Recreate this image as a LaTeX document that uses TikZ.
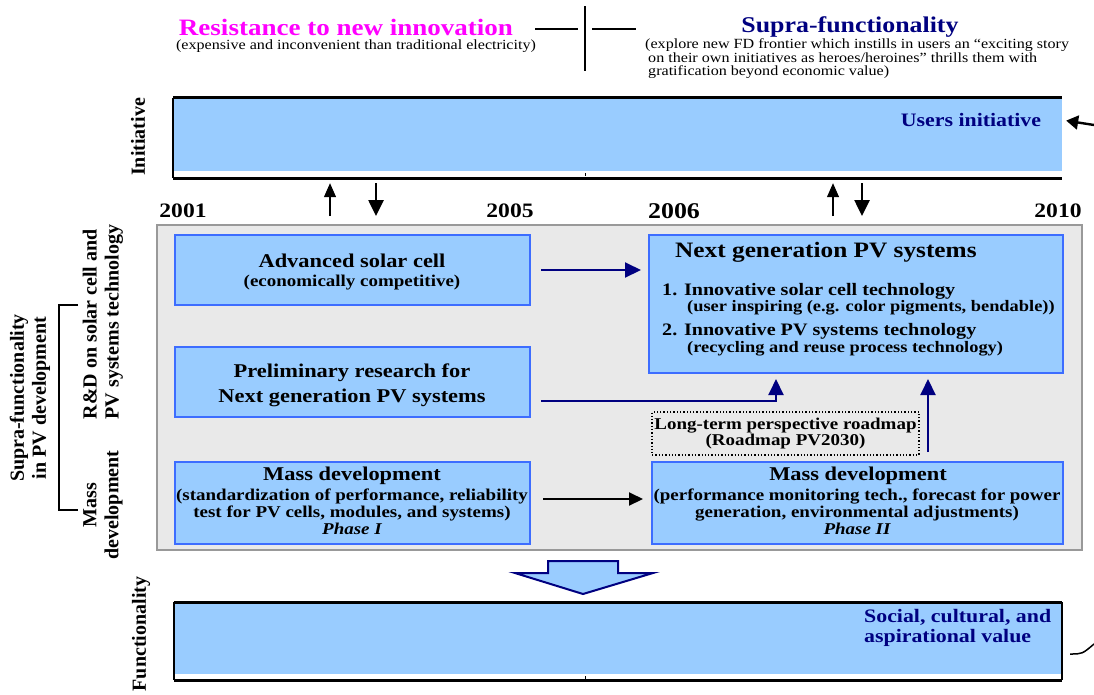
\documentclass[tikz,border=0pt]{standalone}
\usepackage{fontspec}
\setmainfont{Liberation Serif}[FakeStretch=1.15]
\newfontfamily\plainfont{Liberation Serif}
\usetikzlibrary{arrows.meta}

\definecolor{paleblue}{HTML}{99CCFF}
\definecolor{boxblue}{HTML}{3D6DFF}
\definecolor{darknavy}{HTML}{000080}
\definecolor{panelgrey}{HTML}{E9E9E9}
\definecolor{edgegrey}{HTML}{999999}
\definecolor{hotpink}{HTML}{FF00FF}

\tikzset{
  stagebox/.style={draw=boxblue, line width=2pt, fill=paleblue, inner sep=0pt},
  bandfill/.style={fill=paleblue, inner sep=0pt},
  bandrule/.style={line width=3pt},
  headtxt/.style={font=\fontsize{19.5}{25}\selectfont\bfseries, inner sep=0pt, align=center},
  subtxt/.style={font=\fontsize{16.5}{16.5}\selectfont\bfseries, inner sep=0pt, align=center},
  phasetxt/.style={font=\fontsize{16.5}{16.5}\selectfont\bfseries\itshape, inner sep=0pt},
  itemtxt/.style={font=\fontsize{17.5}{17.5}\selectfont\bfseries, inner sep=0pt, anchor=west},
  sidelabel/.style={font=\plainfont\fontsize{20}{22}\selectfont\bfseries, rotate=90, inner sep=0pt, align=center},
  yearlabel/.style={font=\fontsize{20.5}{22}\selectfont\bfseries, inner sep=0pt},
  navyflow/.style={draw=darknavy, line width=2pt, -{Triangle[length=16pt,width=15pt]}},
  blackflow/.style={line width=2pt, -{Triangle[length=14pt,width=13pt]}},
  thinup/.style={line width=1.3pt, -{Triangle[length=14pt,width=12pt]}},
  thickdown/.style={line width=2.6pt, -{Triangle[length=16pt,width=15pt]}},
}

\begin{document}
\begin{tikzpicture}[x=1pt,y=-1pt]
\useasboundingbox (0,0) rectangle (1094,694);

% heading
\node[font=\fontsize{23.5}{25}\selectfont\bfseries, text=hotpink, inner sep=0pt] (resist) at (346,27) {Resistance to new innovation};
\node[font=\fontsize{14}{14}\selectfont, inner sep=0pt] (resistsub) at (356,46) {(expensive and inconvenient than traditional electricity)};
\node[font=\fontsize{22.5}{25}\selectfont\bfseries, text=darknavy, inner sep=0pt] (supra) at (850,27) {Supra-functionality};
\node[font=\fontsize{14}{13.5}\selectfont, inner sep=0pt, align=left, anchor=west] (suprasub) at (645,59) {(explore new FD frontier which instills in users an “exciting story\\\hspace*{3pt}on their own initiatives as heroes/heroines” thrills them with\\\hspace*{3pt}gratification beyond economic value)};
\draw[line width=1.2pt] (535,29) -- (578,29) (592,29) -- (636,29);
\draw[line width=1.2pt] (585,6) -- (585,71);

% initiative band
\node[bandfill, minimum width=889pt, minimum height=73pt] (ini) at (617.5,134.5) {};
\draw[bandrule] (ini.north west) -- (ini.north east);
\draw[bandrule] ([yshift=-7pt]ini.south west) -- ([yshift=-7pt]ini.south east);
\draw[line width=2pt] (ini.north west) -- ([yshift=-7pt]ini.south west);
\fill (584.5,173) rectangle (586,176);
\node[font=\fontsize{19}{20}\selectfont\bfseries, text=darknavy, inner sep=0pt] (users) at (971,120) {Users initiative};
\coordinate (feedin) at (1094,125);
\draw[line width=2.4pt, -{Triangle[length=12pt,width=14pt]}, shorten >=4pt] (feedin) -- (ini.east |- users);

% side labels
\node[sidelabel] (initlab) at (138,137) {Initiative};
\node[sidelabel] (funclab) at (141,634) {Functionality};
\node[sidelabel] (supralab) at (30,398) {Supra-functionality\\in PV development};
\node[sidelabel, align=left] (rdlab) at (103,322) {R\&D on solar cell and\\PV systems technology};
\node[sidelabel] (masslab) at (103,505) {Mass\\development};
\draw[line width=1.3pt] (78,305) -- (59,305) -- (59,510) -- (78,510);

% years
\node[yearlabel] (yra) at (183,211) {2001};
\node[yearlabel] (yrb) at (510,211) {2005};
\node[yearlabel, font=\fontsize{22.5}{24}\selectfont\bfseries] (yrc) at (674,211) {2006};
\node[yearlabel] (yrd) at (1058,211) {2010};

% panel
\node[draw=edgegrey, line width=2pt, fill=panelgrey, inner sep=0pt, minimum width=925pt, minimum height=325pt] (panel) at (619.5,387.5) {};

% arrows between panel and band
\foreach \nm/\xx in {ua/330,da/376,ub/833,db/862} \coordinate (\nm) at (\xx,0);
\foreach \up/\dn in {ua/da,ub/db}{
\draw[thinup, shorten <=8pt, shorten >=12pt] (panel.north -| \up) -- (ini.south -| \up);
\draw[thickdown, shorten <=12pt, shorten >=8pt] (ini.south -| \dn) -- (panel.north -| \dn);}

% boxes
\node[stagebox, minimum width=355pt, minimum height=70pt] (adv) at (352.5,270) {};
\node[headtxt] (advhead) at (352,261) {Advanced solar cell};
\node[subtxt] (advsub) at (352,283) {(economically competitive)};

\node[stagebox, minimum width=355pt, minimum height=70pt] (prelim) at (352.5,382) {};
\node[headtxt] (prelimtxt) at (352,385) {Preliminary research for\\Next generation PV systems};

\node[stagebox, minimum width=355pt, minimum height=82pt] (massone) at (352.5,503) {};
\node[headtxt] (massonehead) at (352,476) {Mass development};
\node[subtxt] (massonesub) at (352,505) {(standardization of performance, reliability\\test for PV cells, modules, and systems)};
\node[phasetxt] (massonephase) at (352,529) {Phase I};

\node[stagebox, minimum width=411pt, minimum height=82pt] (masstwo) at (857.5,503) {};
\node[headtxt] (masstwohead) at (858,476) {Mass development};
\node[subtxt] (masstwosub) at (857,505) {(performance monitoring tech., forecast for power\\generation, environmental adjustments)};
\node[phasetxt] (masstwophase) at (857,529) {Phase II};

\node[stagebox, minimum width=414pt, minimum height=138pt] (nextgen) at (856,304) {};
\node[font=\fontsize{22}{22}\selectfont\bfseries, inner sep=0pt, anchor=west] (nexthead) at (675,252) {Next generation PV systems};
\node[itemtxt] (itemone) at (662,291) {1. Innovative solar cell technology};
\node[itemtxt, font=\fontsize{16}{16}\selectfont\bfseries] (itemonesub) at (687,308) {(user inspiring (e.g. color pigments, bendable))};
\node[itemtxt] (itemtwo) at (662,331) {2. Innovative PV systems technology};
\node[itemtxt, font=\fontsize{16}{16}\selectfont\bfseries] (itemtwosub) at (687,349) {(recycling and reuse process technology)};

\node[draw, dotted, line width=1.3pt, inner sep=0pt, minimum width=267pt, minimum height=43pt, font=\fontsize{16.5}{15}\selectfont\bfseries, align=center] (roadmap) at (785.5,433.5) {Long-term perspective roadmap\\(Roadmap PV2030)};

% connectors
\coordinate (bx) at (776,0);
\coordinate (rx) at (928,0);
\draw[navyflow, shorten <=10pt, shorten >=7pt] (adv.east) -- (adv.east -| nextgen.west);
\draw[navyflow, shorten <=10pt, shorten >=5pt] ([yshift=-19pt]prelim.east) -| (nextgen.south -| bx);
\draw[navyflow, shorten <=9pt, shorten >=5pt] (masstwo.north -| rx) -- (nextgen.south -| rx);
\draw[blackflow, shorten <=12pt, shorten >=8pt] ([yshift=4pt]massone.east) -- ([yshift=4pt]masstwo.west);

% block arrow
\draw[draw=darknavy, line width=2pt, fill=paleblue, line join=miter] (548,561) -- (618,561) -- (618,573) -- (653,573) -- (583,594) -- (515,573) -- (548,573) -- cycle;

% functionality band
\node[bandfill, minimum width=888pt, minimum height=71pt] (func) at (618,638) {};
\draw[bandrule] (func.north west) -- (func.north east);
\draw[bandrule] ([yshift=-6.5pt]func.south west) -- ([yshift=-6.5pt]func.south east);
\draw[line width=2pt] (func.north west) -- ([yshift=-6.5pt]func.south west) (func.north east) -- ([yshift=-6.5pt]func.south east);
\fill (584.5,676) rectangle (586,679);
\node[font=\fontsize{19}{20}\selectfont\bfseries, text=darknavy, inner sep=0pt, align=left, anchor=west] (socval) at (864,628) {Social, cultural, and\\aspirational value};
\coordinate (tailout) at (1094,644);
\draw[line width=1.5pt] ([xshift=8pt,yshift=-16pt]func.east) .. controls +(12,0) .. (tailout);
\end{tikzpicture}
\end{document}
